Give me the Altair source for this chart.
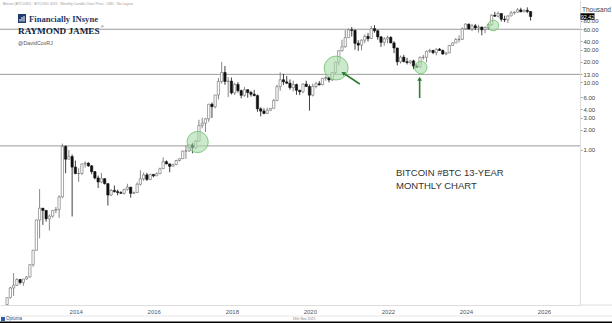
import altair as alt
import pandas as pd

# ---------------- data (USD, monthly candles from Jun 2012) ----------------
START = "2012-06-01"

opens = [
    5.3, 6.7, 9.3, 10.2, 12.4, 11.2, 12.6,
    13.5, 20.4, 33.4, 93, 139, 129, 97, 106, 129, 133, 204, 1129,
    732, 800, 560, 450, 450, 625, 640, 585, 480, 387, 338, 378,
    320, 217, 254, 244, 236, 230, 263, 284, 230, 236, 313, 377,
    430, 369, 437, 416, 448, 531, 673, 624, 575, 609, 700, 743,
    963, 970, 1190, 1080, 1350, 2300, 2480, 2880, 4730, 4340, 6470, 10230,
    13880, 10220, 10320, 6930, 9240, 7490, 6390, 7730, 7030, 6620, 6320, 4040,
    3740, 3460, 3850, 4110, 5350, 8570, 10820, 10080, 9630, 8290, 9200, 7570,
    7200, 9350, 8600, 6420, 8630, 9450, 9140, 11350, 11650, 10780, 13800, 19700,
    28990, 33110, 45140, 58800, 57700, 37300, 35040, 41460, 47100, 43800, 61300, 57000,
    46300, 38500, 43200, 45500, 37700, 31800, 19900, 23300, 20000, 19400, 20500, 17200,
    16550, 23100, 23150, 28450, 29250, 27200, 30470, 29230, 25940, 26970, 34650, 37720,
    42280, 42580, 61130, 71330, 60640, 67490, 62680, 64620, 58970, 63330, 70220, 96450,
    93430, 102400, 84350, 82550, 94200, 104600, 107100, 115800, 108200, 114000, 109500,
]
highs = [
    6.7, 9.7, 15.4, 12.9, 12.5, 12.6, 13.9,
    20.8, 33.5, 95, 266, 140, 129, 112, 130, 145, 215, 1242, 1165,
    1000, 860, 700, 540, 630, 680, 660, 600, 490, 420, 460, 385,
    320, 265, 300, 261, 247, 268, 318, 285, 245, 333, 502, 467,
    462, 442, 440, 468, 549, 780, 704, 627, 628, 718, 754, 979,
    1161, 1200, 1280, 1400, 2790, 3000, 2950, 4770, 5000, 6470, 11500, 19800,
    17250, 11800, 11700, 9740, 9990, 7760, 8500, 7760, 7410, 7680, 6560, 4260,
    4110, 4200, 4140, 5620, 9100, 13900, 13200, 12300, 10950, 10500, 9500, 7750,
    9580, 10500, 9190, 9480, 10080, 10400, 11450, 12470, 12100, 14100, 19900, 29300,
    41950, 58350, 61780, 64860, 59600, 41300, 42500, 50500, 52900, 67000, 69000, 59000,
    47900, 45800, 48200, 47400, 40000, 31900, 24600, 25200, 22800, 21000, 21400, 18400,
    23900, 25200, 29200, 31000, 29800, 31400, 31800, 30200, 27500, 35200, 38400, 44700,
    48900, 64000, 73800, 72800, 71900, 71900, 70000, 65600, 66500, 73600, 99800, 108300,
    109600, 102500, 95000, 95800, 111900, 110600, 123200, 124500, 117900, 126200, 111000,
]
lows = [
    5.2, 6.5, 7.1, 9.9, 10.5, 10.0, 12.3,
    13.2, 19.1, 33, 50, 79, 88, 65, 101, 117, 100, 197, 455,
    730, 105, 440, 340, 430, 550, 565, 440, 370, 275, 325, 310,
    152, 210, 236, 215, 227, 220, 252, 198, 225, 235, 300, 352,
    350, 365, 397, 414, 442, 530, 615, 470, 576, 605, 678, 741,
    739, 940, 895, 1040, 1340, 2080, 1840, 2600, 2970, 4110, 5550, 9500,
    9100, 6000, 6580, 6430, 7000, 5770, 6070, 5880, 6100, 6200, 3650, 3120,
    3350, 3390, 3780, 4090, 5330, 7450, 9100, 9400, 7710, 7300, 6500, 6430,
    6870, 8450, 3800, 6150, 8100, 8900, 8980, 10500, 9900, 10400, 13200, 17600,
    28130, 32300, 45000, 47000, 30000, 28800, 29300, 37300, 39600, 43300, 53300, 42000,
    32900, 34300, 37200, 37600, 26700, 17600, 18800, 19600, 18200, 18200, 15500, 16300,
    16500, 21400, 19600, 26900, 25800, 24800, 28900, 25300, 24900, 26600, 34100, 37600,
    38500, 41900, 59300, 59600, 56500, 58400, 53500, 49000, 52500, 58900, 66800, 91300,
    89200, 78200, 76600, 74400, 93400, 98200, 105100, 107300, 107300, 103500, 80600,
]
closes = [
    6.7, 9.3, 10.2, 12.4, 11.2, 12.6, 13.5,
    20.4, 33.4, 93, 139, 129, 97, 106, 129, 133, 204, 1129, 732,
    800, 560, 450, 450, 625, 640, 585, 480, 387, 338, 378, 320,
    217, 254, 244, 236, 230, 263, 284, 230, 236, 313, 377, 430,
    369, 437, 416, 448, 531, 673, 624, 575, 609, 700, 743, 963,
    970, 1190, 1080, 1350, 2300, 2480, 2880, 4730, 4340, 6470, 10230, 13880,
    10220, 10320, 6930, 9240, 7490, 6390, 7730, 7030, 6620, 6320, 4040, 3740,
    3460, 3850, 4110, 5350, 8570, 10820, 10080, 9630, 8290, 9200, 7570, 7200,
    9350, 8600, 6420, 8630, 9450, 9140, 11350, 11650, 10780, 13800, 19700, 28990,
    33110, 45140, 58800, 57700, 37300, 35040, 41460, 47100, 43800, 61300, 57000, 46300,
    38500, 43200, 45500, 37700, 31800, 19900, 23300, 20000, 19400, 20500, 17200, 16550,
    23100, 23150, 28450, 29250, 27200, 30470, 29230, 25940, 26970, 34650, 37720, 42280,
    42580, 61130, 71330, 60640, 67490, 62680, 64620, 58970, 63330, 70220, 96450, 93430,
    102400, 84350, 82550, 94200, 104600, 107100, 115800, 108200, 114000, 109500, 92420,
]

level_lines = [1150, 13000, 60000]
y_tick_values = [1000, 2000, 3000, 4000, 6000, 10000, 13000, 20000, 30000, 40000, 60000, 80000]
x_years = [2014, 2016, 2018, 2020, 2022, 2024, 2026]
last_price = 92420

circle_t = [2017.30, 2020.85, 2023.02, 2024.88]
circle_v = [1310, 16100, 16400, 68200]
circle_size = [452, 573, 154, 113]

arrow_t1 = [2021.456, 2022.99]
arrow_v1 = [9380, 5830]
arrow_t2 = [2021.03, 2022.99]
arrow_v2 = [13600, 11200]
arrow_angle = [303, 0]

# ---------------- build tables ----------------
months = pd.date_range(START, periods=len(closes), freq="MS")
candles = pd.DataFrame({
    "t": months.year + (months.month - 1) / 12.0,
    "open": opens, "high": highs, "low": lows, "close": closes,
})
candles["dir"] = ["up" if c >= o else "down" for o, c in zip(opens, closes)]

levels = pd.DataFrame({"v": level_lines})
circles = pd.DataFrame({"t": circle_t, "v": circle_v, "s": circle_size})
arrows = pd.DataFrame({"t": arrow_t1, "v": arrow_v1, "t2": arrow_t2, "v2": arrow_v2, "ang": arrow_angle})
last = pd.DataFrame({"v": [last_price], "lab": [f"{last_price/1000:.2f}"]})
one = pd.DataFrame({"a": [0]})

W, H = 580, 305
xs = alt.Scale(domain=[2012.3627, 2026.972], nice=False, zero=False)
ys = alt.Scale(type="log", domain=[5.216, 161800], nice=False, zero=False)

x_axis = alt.Axis(values=[yv + 0.176 for yv in x_years], labelExpr="'' + floor(datum.value)",
                  title=None, grid=False, ticks=False, labelFontSize=6, labelColor="#555555",
                  labelPadding=3, domainColor="#dddddd", labelFlush=False, labelOverlap=False)
y_axis = alt.Axis(orient="right", values=y_tick_values, labelExpr="format(datum.value / 1000, '.2f')",
                  title=None, grid=False, tickSize=2, tickColor="#999999", labelFontSize=6,
                  labelColor="#444444", labelPadding=1, domainColor="#dddddd",
                  labelOverlap=False, labelFlush=False)


def X(f):
    return alt.X(f"{f}:Q", scale=xs, axis=x_axis)


def Y(f):
    return alt.Y(f"{f}:Q", scale=ys, axis=y_axis)


stroke_scale = alt.Scale(domain=["up", "down"], range=["#6a6a6a", "#111111"])

level_layer = alt.Chart(levels).mark_rule(color="#9a9a9a", strokeWidth=1).encode(y=Y("v"))

wicks = alt.Chart(candles).mark_rule(strokeWidth=0.8, clip=True).encode(
    x=X("t"), y=Y("low"), y2="high:Q",
    stroke=alt.Stroke("dir:N", scale=stroke_scale, legend=None))

bodies = alt.Chart(candles).mark_bar(size=2.3, strokeWidth=0.6, clip=True).encode(
    x=X("t"), y=Y("open"), y2="close:Q",
    fill=alt.Fill("dir:N", scale=alt.Scale(domain=["up", "down"], range=["#ffffff", "#111111"]), legend=None),
    stroke=alt.Stroke("dir:N", scale=stroke_scale, legend=None))

circle_layer = alt.Chart(circles).mark_point(
    shape="circle", filled=True, fill="#a9dba9", fillOpacity=0.6,
    stroke="#6cbf6c", strokeWidth=0.8, opacity=1).encode(
    x=X("t"), y=Y("v"), size=alt.Size("s:Q", scale=None, legend=None))

arrow_lines = alt.Chart(arrows).mark_rule(color="#2e7d32", strokeWidth=1.6).encode(
    x=X("t"), y=Y("v"), x2="t2:Q", y2="v2:Q")

arrow_heads = alt.Chart(arrows).mark_point(
    shape="triangle-up", filled=True, color="#2e7d32", size=22, opacity=1).encode(
    x=X("t2"), y=Y("v2"), angle=alt.Angle("ang:Q", scale=None))


def txt(s, x, y, **kw):
    return alt.Chart(one).mark_text(**kw).encode(x=alt.value(x), y=alt.value(y), text=alt.value(s))


def rect(x1, x2, y1, y2, color):
    return alt.Chart(one).mark_rect(color=color).encode(
        x=alt.value(x1), x2=alt.value(x2), y=alt.value(y1), y2=alt.value(y2))


def hline(x1, x2, y, color):
    return alt.Chart(one).mark_rule(color=color, strokeWidth=1).encode(
        x=alt.value(x1), x2=alt.value(x2), y=alt.value(y))


price_box = alt.Chart(last).mark_point(
    shape="M-1,-0.46L1,-0.46L1,0.46L-1,0.46Z", filled=True, color="#000000", size=196, opacity=1).encode(
    x=alt.value(587.5), y=Y("v"))
price_text = alt.Chart(last).mark_text(color="#ffffff", fontSize=5.5, align="center", baseline="middle").encode(
    x=alt.value(587.5), y=Y("v"), text="lab:N")

layers = [
    level_layer, wicks, bodies, circle_layer, arrow_lines, arrow_heads,
    price_box, price_text,
    txt("Thousand", 582, 9.5, fontSize=6.5, color="#444444", align="left", baseline="middle"),
    # header
    txt("Bitcoin (BTCUSD) \u00b7 BTCUSD 2025 \u00b7 Monthly Candle Chart Price \u00b7 USD \u00b7 No Layout",
        3, 3.5, fontSize=3.5, color="#9a9a9a", align="left", baseline="middle"),
    # logo
    rect(18, 26, 14, 23, "#1d3b6b"),
    rect(19.5, 20.5, 19, 21.5, "#ffffff"),
    rect(21.5, 22.5, 17, 21.5, "#ffffff"),
    rect(23.5, 24.5, 16, 21.5, "#ffffff"),
    txt("Financially INsyne", 29, 18.5, fontSize=8.6, font="Liberation Serif", fontWeight="bold",
        color="#1f3864", align="left", baseline="middle"),
    txt("RAYMOND JAMES", 18, 31, fontSize=9.2, font="Liberation Serif", fontWeight="bold",
        color="#0f1f3d", align="left", baseline="middle"),
    txt("\u00ae", 101, 27, fontSize=3.5, color="#0f1f3d", align="left", baseline="middle"),
    txt("@DavidCoxRJ", 18, 43, fontSize=5.3, color="#555555", align="left", baseline="middle"),
    # annotation
    txt("BITCOIN #BTC 13-YEAR", 396, 173, fontSize=9.5, color="#333333", align="left", baseline="middle"),
    txt("MONTHLY CHART", 396, 186, fontSize=9.5, color="#333333", align="left", baseline="middle"),
    # bottom strip
    hline(580, 612, 305, "#dddddd"),
    hline(0, 612, 316, "#e6e6e6"),
    rect(1, 5, 317, 321, "#2a5db0"),
    txt("Optuma", 6, 319, fontSize=4.5, color="#2a4b7c", align="left", baseline="middle"),
    txt("18th Nov 2025", 304, 318.5, fontSize=3.5, color="#888888", align="center", baseline="middle"),
    rect(0, 612, 321.5, 323, "#000000"),
]

chart = alt.layer(*layers).properties(
    width=W, height=H,
    autosize=alt.AutoSizeParams(type="none"),
    padding={"left": 0, "top": 0, "right": 32, "bottom": 18},
    background="#ffffff",
).configure_view(strokeWidth=0).configure_axis(labelFont="Liberation Sans").configure_text(font="Liberation Sans")

chart.save("out.html", embed_options={"renderer": "svg", "actions": False})
